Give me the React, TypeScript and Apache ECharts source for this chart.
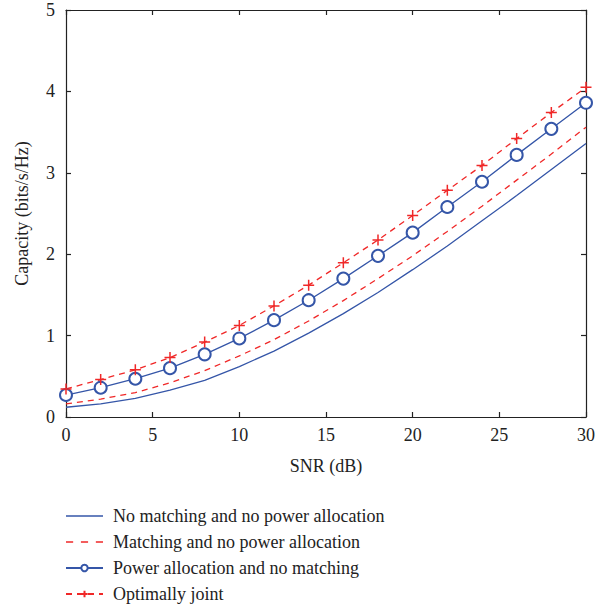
import React, { useEffect, useRef } from "react";
import * as echarts from "echarts";

const snr = [0, 2, 4, 6, 8, 10, 12, 14, 16, 18, 20, 22, 24, 26, 28, 30];
const noMatchNoPower = [0.12, 0.16, 0.23, 0.33, 0.45, 0.62, 0.81, 1.03, 1.27, 1.53, 1.81, 2.1, 2.41, 2.72, 3.04, 3.36];
const matchNoPower = [0.16, 0.22, 0.3, 0.42, 0.57, 0.75, 0.95, 1.18, 1.43, 1.7, 1.98, 2.28, 2.59, 2.91, 3.23, 3.56];
const powerNoMatch = [0.27, 0.36, 0.47, 0.6, 0.77, 0.965, 1.19, 1.435, 1.7, 1.98, 2.265, 2.58, 2.89, 3.22, 3.54, 3.86];
const optimallyJoint = [0.345, 0.46, 0.58, 0.73, 0.92, 1.125, 1.365, 1.62, 1.895, 2.175, 2.475, 2.785, 3.09, 3.42, 3.74, 4.05];
const seriesNames = [
  "No matching and no power allocation",
  "Matching and no power allocation",
  "Power allocation and no matching",
  "Optimally joint",
];

const BLUE = "#3556a8";
const RED = "#f02828";
const FONT = "Liberation Serif";

const SOLID_ICON = "path://M0,0L37,0L37,1.3L0,1.3Z";
const DASH_ICON = "path://M0,0L6,0L6,1.3L0,1.3ZM12.5,0L18.5,0L18.5,1.3L12.5,1.3ZM25,0L31,0L31,1.3L25,1.3Z";

const pair = (ys: number[]) => snr.map((x, i) => [x, ys[i]]);

export default function App() {
  const ref = useRef<HTMLDivElement>(null);
  useEffect(() => {
    if (!ref.current) return;
    const chart = echarts.init(ref.current, null, { renderer: "svg" });
    const axisLine = { show: true, onZero: false, lineStyle: { color: "#222", width: 1.2 } };
    const tick = { show: true, inside: true, length: 5, lineStyle: { color: "#222", width: 1.2 } };
    chart.setOption({
      animation: false,
      backgroundColor: "#fff",
      grid: { left: 66, right: 26, top: 10, bottom: 194, containLabel: false },
      xAxis: [
        {
          type: "value", min: 0, max: 30, interval: 5,
          name: "SNR (dB)", nameLocation: "middle", nameGap: 40,
          nameTextStyle: { fontFamily: FONT, fontSize: 18, color: "#222" },
          axisLine, axisTick: tick, splitLine: { show: false },
          axisLabel: { fontFamily: FONT, fontSize: 18, color: "#222", margin: 9 },
        },
        {
          type: "value", min: 0, max: 30, interval: 5, position: "top",
          axisLine, axisTick: tick, splitLine: { show: false }, axisLabel: { show: false },
        },
      ],
      yAxis: [
        {
          type: "value", min: 0, max: 5, interval: 1,
          name: "Capacity (bits/s/Hz)", nameLocation: "middle", nameGap: 35, nameRotate: 90,
          nameTextStyle: { fontFamily: FONT, fontSize: 18, color: "#222" },
          axisLine, axisTick: tick, splitLine: { show: false },
          axisLabel: { fontFamily: FONT, fontSize: 18, color: "#222", margin: 11 },
        },
        {
          type: "value", min: 0, max: 5, interval: 1, position: "right",
          axisLine, axisTick: tick, splitLine: { show: false }, axisLabel: { show: false },
        },
      ],
      legend: {
        orient: "vertical", left: 65, top: 507, height: 110, padding: 0,
        itemWidth: 37, itemHeight: 8, itemGap: 8,
        textStyle: { fontFamily: FONT, fontSize: 18, color: "#222", padding: [0, 0, 0, 5] },
        data: [
          { name: seriesNames[0], icon: SOLID_ICON },
          { name: seriesNames[1], icon: DASH_ICON },
          { name: seriesNames[2] },
          { name: seriesNames[3] },
        ],
      },
      series: [
        {
          name: seriesNames[0], type: "line", data: pair(noMatchNoPower), symbol: "none",
          lineStyle: { color: BLUE, width: 1.3 }, itemStyle: { color: BLUE },
        },
        {
          name: seriesNames[1], type: "line", data: pair(matchNoPower), symbol: "none",
          lineStyle: { color: RED, width: 1.3, type: [6, 5] }, itemStyle: { color: RED },
        },
        {
          name: seriesNames[2], type: "line", data: pair(powerNoMatch),
          symbol: "emptyCircle", symbolSize: 12, showAllSymbol: true,
          lineStyle: { color: BLUE, width: 1.3 },
          itemStyle: { color: BLUE, borderWidth: 1.1 },
        },
        {
          name: seriesNames[3], type: "line", data: pair(optimallyJoint),
          symbol: "path://M0,-6L0,6M-6,0L6,0", symbolSize: 11, showAllSymbol: true,
          lineStyle: { color: RED, width: 1.3, type: [6, 5] },
          itemStyle: { color: "none", borderColor: RED, borderWidth: 1.5 },
        },
      ],
    });
    return () => chart.dispose();
  }, []);
  return <div ref={ref} style={{ position: "absolute", left: 0, top: 0, width: 612, height: 611 }} />;
}
